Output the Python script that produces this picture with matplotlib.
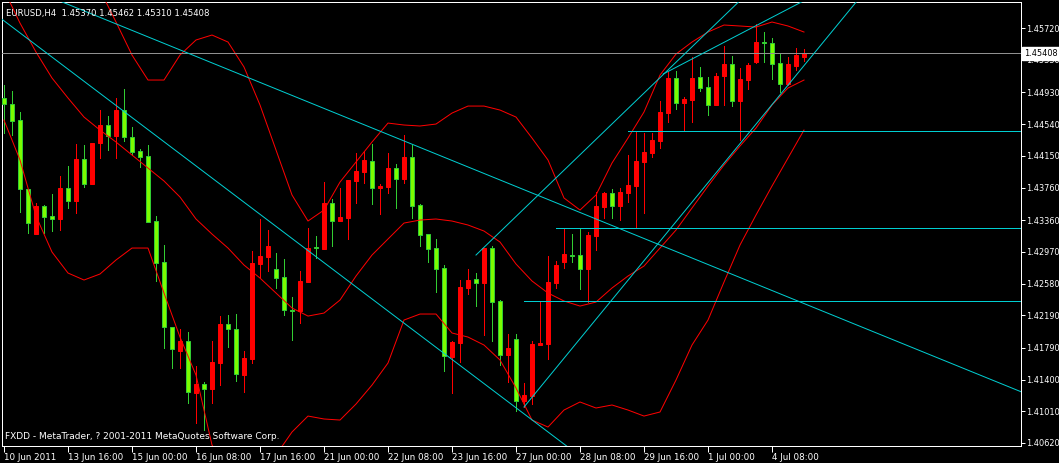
import numpy as np
import matplotlib
matplotlib.use('Agg')
import matplotlib.pyplot as plt
import matplotlib.transforms as mtransforms

# EURUSD H4 candles, oldest first
opens = [1.44860, 1.44786, 1.44589, 1.43741, 1.43188, 1.43532, 1.43409, 1.43373, 1.43754, 1.43594,
         1.44110, 1.43803, 1.44307, 1.44528, 1.44393, 1.44712, 1.44380, 1.44208, 1.44147, 1.43348,
         1.42844, 1.42045, 1.41750, 1.41873, 1.41234, 1.41345, 1.41283, 1.41603, 1.42082, 1.42021,
         1.41455, 1.41652, 1.42820, 1.42906, 1.42758, 1.42660, 1.42254, 1.42242, 1.42598, 1.43029,
         1.43004, 1.43569, 1.43348, 1.43385, 1.43840, 1.43950, 1.44085, 1.43754, 1.43766, 1.43999,
         1.43864, 1.44135, 1.43545, 1.43188, 1.43016, 1.42770, 1.41677, 1.41849, 1.42525, 1.42635,
         1.42586, 1.43016, 1.42365, 1.41701, 1.41898, 1.41136, 1.41197, 1.41824, 1.41836, 1.42586,
         1.42844, 1.42930, 1.42930, 1.42758, 1.43164, 1.43520, 1.43692, 1.43532, 1.43692, 1.43778,
         1.44073, 1.44184, 1.44331, 1.44675, 1.45106, 1.44798, 1.44835, 1.45118, 1.44995, 1.44774,
         1.45130, 1.45278, 1.44823, 1.45081, 1.45302, 1.45548, 1.45536, 1.45290, 1.45032, 1.45253,
         1.45370]
highs = [1.45019, 1.44946, 1.44688, 1.43741, 1.43569, 1.43545, 1.43680, 1.43901, 1.44024, 1.44294,
         1.44282, 1.44307, 1.44712, 1.44638, 1.44860, 1.44970, 1.44503, 1.44233, 1.44282, 1.43409,
         1.43053, 1.42045, 1.42021, 1.41984, 1.41566, 1.41369, 1.41873, 1.42180, 1.42193, 1.42205,
         1.41750, 1.42979, 1.43373, 1.43237, 1.42955, 1.42881, 1.42414, 1.42734, 1.43262, 1.43164,
         1.43827, 1.43618, 1.43754, 1.43852, 1.44184, 1.44208, 1.44294, 1.43803, 1.44184, 1.44049,
         1.44405, 1.44282, 1.43557, 1.43188, 1.43127, 1.42807, 1.41873, 1.42623, 1.42758, 1.42709,
         1.43016, 1.43041, 1.42377, 1.41959, 1.41959, 1.41357, 1.41873, 1.42352, 1.42918, 1.42856,
         1.43262, 1.43188, 1.43262, 1.43213, 1.43704, 1.43704, 1.43741, 1.43754, 1.44159, 1.44442,
         1.44430, 1.44430, 1.44823, 1.45179, 1.45192, 1.44872, 1.45364, 1.45241, 1.45118, 1.45167,
         1.45499, 1.45376, 1.45228, 1.45290, 1.45769, 1.45671, 1.45597, 1.45400, 1.45364, 1.45474,
         1.45462]
lows = [1.44430, 1.44405, 1.43459, 1.43201, 1.43188, 1.43201, 1.43225, 1.43237, 1.43508, 1.43446,
        1.43766, 1.43803, 1.44122, 1.44221, 1.44122, 1.44331, 1.44159, 1.44012, 1.43336, 1.42611,
        1.41787, 1.41541, 1.41541, 1.41111, 1.40865, 1.40779, 1.41111, 1.41332, 1.41799, 1.41382,
        1.41246, 1.41603, 1.42660, 1.42734, 1.42525, 1.42193, 1.41885, 1.42094, 1.42598, 1.42893,
        1.43004, 1.43041, 1.43348, 1.43127, 1.43569, 1.43815, 1.43557, 1.43434, 1.43692, 1.43508,
        1.43815, 1.43385, 1.43041, 1.42844, 1.42475, 1.41505, 1.41234, 1.41615, 1.42451, 1.42303,
        1.41947, 1.41873, 1.41578, 1.41369, 1.41013, 1.41062, 1.41099, 1.41824, 1.41652, 1.42525,
        1.42770, 1.42844, 1.42512, 1.42352, 1.42992, 1.43385, 1.43385, 1.43360, 1.43581, 1.43274,
        1.43446, 1.44135, 1.44245, 1.44565, 1.44724, 1.44454, 1.44565, 1.44946, 1.44651, 1.44774,
        1.44774, 1.44761, 1.44344, 1.44970, 1.45290, 1.45302, 1.45093, 1.44933, 1.45019, 1.45204,
        1.45310]
closes = [1.44786, 1.44577, 1.43741, 1.43323, 1.43532, 1.43397, 1.43373, 1.43754, 1.43594, 1.44110,
          1.43803, 1.44307, 1.44528, 1.44393, 1.44712, 1.44380, 1.44196, 1.44135, 1.43336, 1.42832,
          1.42045, 1.41775, 1.41873, 1.41246, 1.41345, 1.41283, 1.41615, 1.42082, 1.42021, 1.41468,
          1.41664, 1.42832, 1.42918, 1.43041, 1.42647, 1.42254, 1.42242, 1.42611, 1.43016, 1.43016,
          1.43569, 1.43348, 1.43397, 1.43852, 1.43963, 1.44098, 1.43754, 1.43778, 1.43999, 1.43864,
          1.44135, 1.43532, 1.43176, 1.43004, 1.42758, 1.41689, 1.41861, 1.42537, 1.42623, 1.42586,
          1.43016, 1.42352, 1.41701, 1.41787, 1.41136, 1.41210, 1.41836, 1.41849, 1.42598, 1.42807,
          1.42942, 1.42918, 1.42758, 1.43176, 1.43532, 1.43692, 1.43532, 1.43704, 1.43790, 1.44085,
          1.44196, 1.44344, 1.44688, 1.45106, 1.44798, 1.44847, 1.45106, 1.44983, 1.44774, 1.45130,
          1.45278, 1.44823, 1.45093, 1.45265, 1.45548, 1.45536, 1.45278, 1.45032, 1.45278, 1.45388,
          1.45408]

# Bollinger bands, read every 2nd bar
band_bars = np.arange(0, 101, 2)
bb_upper = [1.47785, 1.47465, 1.47441, 1.47244, 1.47010, 1.46629, 1.46187, 1.45794, 1.45388, 1.45081,
            1.45081, 1.45388, 1.45573, 1.45634, 1.45548, 1.45241, 1.44774, 1.44221, 1.43668, 1.43348,
            1.43483, 1.43827, 1.44073, 1.44319, 1.44552, 1.44528, 1.44516, 1.44540, 1.44675, 1.44761,
            1.44761, 1.44712, 1.44626, 1.44368, 1.44098, 1.43631, 1.43483, 1.43668, 1.44061, 1.44368,
            1.44688, 1.45142, 1.45400, 1.45548, 1.45671, 1.45757, 1.45745, 1.45732, 1.45794, 1.45745,
            1.45671]
bb_middle = [1.46187, 1.45781, 1.45425, 1.45106, 1.44860, 1.44626, 1.44466, 1.44319, 1.44159, 1.43999,
             1.43840, 1.43643, 1.43373, 1.43188, 1.43016, 1.42807, 1.42647, 1.42463, 1.42279, 1.42180,
             1.42217, 1.42377, 1.42672, 1.42930, 1.43127, 1.43323, 1.43360, 1.43373, 1.43348, 1.43299,
             1.43225, 1.43090, 1.42820, 1.42611, 1.42463, 1.42365, 1.42303, 1.42352, 1.42525, 1.42672,
             1.42795, 1.43016, 1.43237, 1.43508, 1.43778, 1.44036, 1.44270, 1.44491, 1.44774, 1.44983,
             1.45081]
bb_lower = [1.44589, 1.44098, 1.43409, 1.42967, 1.42709, 1.42623, 1.42697, 1.42869, 1.43016, 1.43016,
            1.42463, 1.41922, 1.41455, 1.40595, 1.40288, 1.40189, 1.40263, 1.40472, 1.40755, 1.40951,
            1.40915, 1.40902, 1.41099, 1.41332, 1.41603, 1.42131, 1.42205, 1.42205, 1.41972, 1.41922,
            1.41824, 1.41640, 1.41296, 1.40902, 1.40816, 1.41025, 1.41124, 1.41050, 1.41087, 1.41025,
            1.40951, 1.41001, 1.41394, 1.41824, 1.42131, 1.42598, 1.43053, 1.43422, 1.43778, 1.44122,
            1.44466]

# trend lines: (bar, price) anchors; rays go on past the second point
down_line_1 = [(0, 1.45809), (70, 1.40607)]
down_line_2 = [(7.6, 1.46027), (126.6, 1.41271)]
up_ray_low = [(65, 1.41062), (100, 1.45258)]
up_ray_high = [(59, 1.42930), (90, 1.45868)]
up_ray_top = [(82.4, 1.45155), (100, 1.46056)]

# horizontal levels: (start bar, price)
levels = [(78, 1.44454), (69, 1.43268), (65, 1.42365)]
last_price = 1.45408

price_ticks = [1.45720, 1.45330, 1.44930, 1.44540, 1.44150, 1.43760, 1.43360,
               1.42970, 1.42580, 1.42190, 1.41790, 1.41400, 1.41010, 1.40620]
time_ticks = [0, 8, 16, 24, 32, 40, 48, 56, 64, 72, 80, 88, 96]
time_labels = ['10 Jun 2011', '13 Jun 16:00', '15 Jun 00:00', '16 Jun 08:00', '17 Jun 16:00',
               '21 Jun 00:00', '22 Jun 08:00', '23 Jun 16:00', '27 Jun 00:00', '28 Jun 08:00',
               '29 Jun 16:00', '1 Jul 00:00', '4 Jul 08:00']

W, H = 1059, 463
px = 0.72  # one pixel in points

fig = plt.figure(figsize=(W / 100, H / 100), dpi=100, facecolor='black')
ax = fig.add_axes([2 / W, (H - 446) / H, 1019 / W, 444 / H], facecolor='black')
ax.set_xlim(-0.25, 127.125)
ax.set_ylim(1.40583, 1.46040)

o = np.array(opens); h = np.array(highs); l = np.array(lows); c = np.array(closes)
x = np.arange(len(o))
up = c >= o
wick_col = np.where(up, '#FF0000', '#32CD32')
body_col = np.where(up, '#FF0000', '#7CFC00')
ax.vlines(x, l, h, colors=wick_col, lw=px, zorder=2, antialiased=False)
ax.bar(x, np.abs(c - o), bottom=np.minimum(o, c), width=0.6, color=body_col,
       edgecolor=wick_col, linewidth=px, zorder=3)

for band in (bb_upper, bb_middle, bb_lower):
    ax.plot(band_bars, band, color='#FF0000', lw=px, zorder=4)

cyan = '#00CED1'
for (x0, y0), (x1, y1) in (down_line_1, down_line_2):
    ax.axline((x0, y0), (x1, y1), color=cyan, lw=px, zorder=5)
for (x0, y0), (x1, y1) in (up_ray_low, up_ray_high, up_ray_top):
    slope = (y1 - y0) / (x1 - x0)
    ax.plot([x0, 130], [y0, y0 + slope * (130 - x0)], color=cyan, lw=px, zorder=5)
for x0, y0 in levels:
    ax.plot([x0, 130], [y0, y0], color=cyan, lw=px, zorder=5)
ax.axhline(last_price, color='#909090', lw=px, zorder=4)

for s in ax.spines.values():
    s.set_color('white')
    s.set_linewidth(px)

ax.yaxis.tick_right()
ax.set_yticks(price_ticks)
ax.set_yticklabels(['%.5f' % v for v in price_ticks])
ax.tick_params(axis='y', colors='white', labelsize=5.9, length=3, width=px, pad=0.8)
ax.set_xticks(time_ticks)
ax.set_xticklabels(time_labels)
ax.tick_params(axis='x', colors='white', labelsize=6.3, length=4, width=px, pad=1)
for lbl in ax.get_xticklabels():
    lbl.set_ha('left')

trans = mtransforms.blended_transform_factory(ax.transAxes, ax.transData)
ax.text(1.0025, last_price, '%.5f' % last_price, transform=trans, fontsize=5.9,
        color='black', va='center', ha='left', zorder=10, clip_on=False,
        bbox=dict(facecolor='white', edgecolor='white', pad=1.2))

ax.text(0.004, 0.985, 'EURUSD,H4  1.45370 1.45462 1.45310 1.45408', transform=ax.transAxes,
        color='white', fontsize=6.1, va='top', ha='left', zorder=10)
ax.text(0.003, 0.012, 'FXDD - MetaTrader, ? 2001-2011 MetaQuotes Software Corp.',
        transform=ax.transAxes, color='white', fontsize=6.5, va='bottom', ha='left', zorder=10)

fig.savefig('out.png', dpi=100, facecolor='black')
